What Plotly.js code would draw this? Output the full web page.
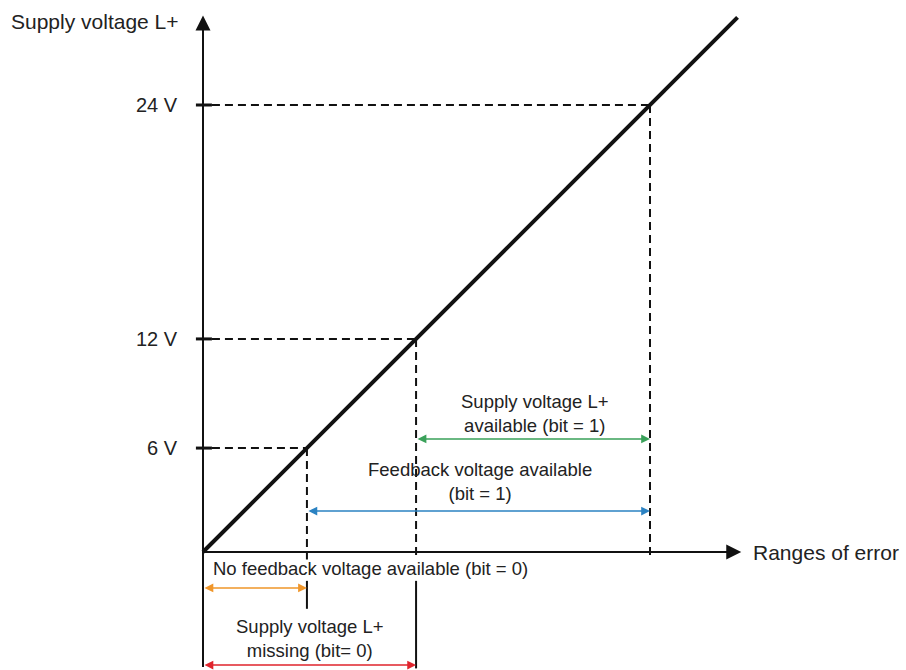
<!DOCTYPE html>
<html>
<head>
<meta charset="utf-8">
<script src="https://cdn.plot.ly/plotly-3.0.1.min.js"></script>
<style>html,body{margin:0;padding:0;background:#fff;}#chart{width:906px;height:670px;}</style>
</head>
<body>
<div id="chart"></div>
<script>
// ---- data (diagram units: origin = 0 V / start of error ranges) ----
const levelLabels = ['6 V', '12 V', '24 V'];
const levelPos = [5.58, 11.44, 24.0];          // where each voltage level sits on the axes
const lineX = [0, 28.7];                       // supply voltage characteristic
const lineY = [0, 28.7];
const rangeTexts = [
  'Supply voltage L+<br>available (bit = 1)',
  'Feedback voltage available<br>(bit = 1)',
  'No feedback voltage available (bit = 0)',
  'Supply voltage L+<br>missing (bit= 0)'
];
const rangeStart = [11.44, 5.58, 0, 0];
const rangeEnd = [24.0, 24.0, 5.58, 11.44];
const rangeRow = [6.07, 2.2, -1.93, -6.07];
const rangeColors = ['#3aa15a', '#2b82c2', '#f0962a', '#e0242d'];
const axisTitleY = 'Supply voltage L+';
const axisTitleX = 'Ranges of error';

// ---- layout helpers ----
const U = 18.625; // px per unit
const x0 = -203 / U, x1 = (906 - 203) / U;
const y1 = 552 / U, y0 = (552 - 670) / U;
const FONT = 'Liberation Sans, Arial, sans-serif';
const TXT = '#222222';

const shapes = [];
const annotations = [];

// y-axis tick marks
levelPos.forEach(v => {
  shapes.push({type: 'line', xref: 'x', yref: 'y', x0: -0.38, x1: 0.48, y0: v, y1: v,
    line: {color: '#111', width: 3}});
  // horizontal dashed to the characteristic
  shapes.push({type: 'line', xref: 'x', yref: 'y', x0: 0.48, x1: v, y0: v, y1: v,
    line: {color: '#111', width: 2, dash: '8px,5px'}});
  // vertical dashed down to x axis
  shapes.push({type: 'line', xref: 'x', yref: 'y', x0: v, x1: v, y0: v, y1: -0.4,
    line: {color: '#111', width: 2, dash: '8px,5px'}});
});
levelLabels.forEach((t, i) => {
  annotations.push({x: -1.23, y: levelPos[i], xref: 'x', yref: 'y', text: t, showarrow: false,
    xanchor: 'right', yanchor: 'middle', font: {family: FONT, size: 20, color: TXT}});
});

// solid verticals below the x axis (range limits)
shapes.push({type: 'line', xref: 'x', yref: 'y', x0: levelPos[0], x1: levelPos[0], y0: -1.55, y1: -3.05,
  line: {color: '#111', width: 2}});
shapes.push({type: 'line', xref: 'x', yref: 'y', x0: levelPos[1], x1: levelPos[1], y0: -1.55, y1: -6.25,
  line: {color: '#111', width: 2}});

// axes with arrowheads
annotations.push({x: 28.9, y: 0, ax: 0, ay: 0, xref: 'x', yref: 'y', axref: 'x', ayref: 'y',
  text: '', showarrow: true, arrowhead: 2, arrowsize: 1.5, arrowwidth: 2, arrowcolor: '#111'});
annotations.push({x: 0, y: 28.8, ax: 0, ay: -6.25, xref: 'x', yref: 'y', axref: 'x', ayref: 'y',
  text: '', showarrow: true, arrowhead: 2, arrowsize: 1.5, arrowwidth: 2, arrowcolor: '#111'});
annotations.push({x: -1.2, y: 28.46, xref: 'x', yref: 'y', text: axisTitleY, showarrow: false,
  xanchor: 'right', yanchor: 'middle', font: {family: FONT, size: 21, color: TXT}});
annotations.push({x: 29.4, y: -0.05, xref: 'x', yref: 'y', text: axisTitleX, showarrow: false,
  xanchor: 'left', yanchor: 'middle', font: {family: FONT, size: 21, color: TXT}});

// range arrows
rangeTexts.forEach((t, i) => {
  annotations.push({x: rangeEnd[i], y: rangeRow[i], ax: rangeStart[i], ay: rangeRow[i],
    xref: 'x', yref: 'y', axref: 'x', ayref: 'y', text: '', showarrow: true,
    arrowhead: 2, startarrowhead: 2, arrowside: 'end+start', arrowsize: 1.1, startarrowsize: 1.1,
    arrowwidth: 1.6, arrowcolor: rangeColors[i]});
});
// range labels
const labelPos = [
  {x: 17.83, y: 7.41, xanchor: 'center'},
  {x: 14.85, y: 3.79, xanchor: 'center'},
  {x: 0.42, y: -0.91, xanchor: 'left'},
  {x: 5.74, y: -4.64, xanchor: 'center'}
];
rangeTexts.forEach((t, i) => {
  annotations.push({x: labelPos[i].x, y: labelPos[i].y, xref: 'x', yref: 'y', text: t,
    showarrow: false, xanchor: labelPos[i].xanchor, yanchor: 'middle', align: 'center',
    font: {family: FONT, size: 18.5, color: TXT}});
});

const traces = [{
  x: lineX, y: lineY, type: 'scatter', mode: 'lines',
  line: {color: '#111', width: 4}, hoverinfo: 'skip', showlegend: false
}];

const layout = {
  width: 906, height: 670,
  margin: {l: 0, r: 0, t: 0, b: 0},
  paper_bgcolor: '#ffffff', plot_bgcolor: '#ffffff',
  xaxis: {range: [x0, x1], visible: false, fixedrange: true},
  yaxis: {range: [y0, y1], visible: false, fixedrange: true},
  shapes: shapes,
  annotations: annotations,
  showlegend: false
};

Plotly.newPlot('chart', traces, layout, {displayModeBar: false, staticPlot: true});
</script>
</body>
</html>
